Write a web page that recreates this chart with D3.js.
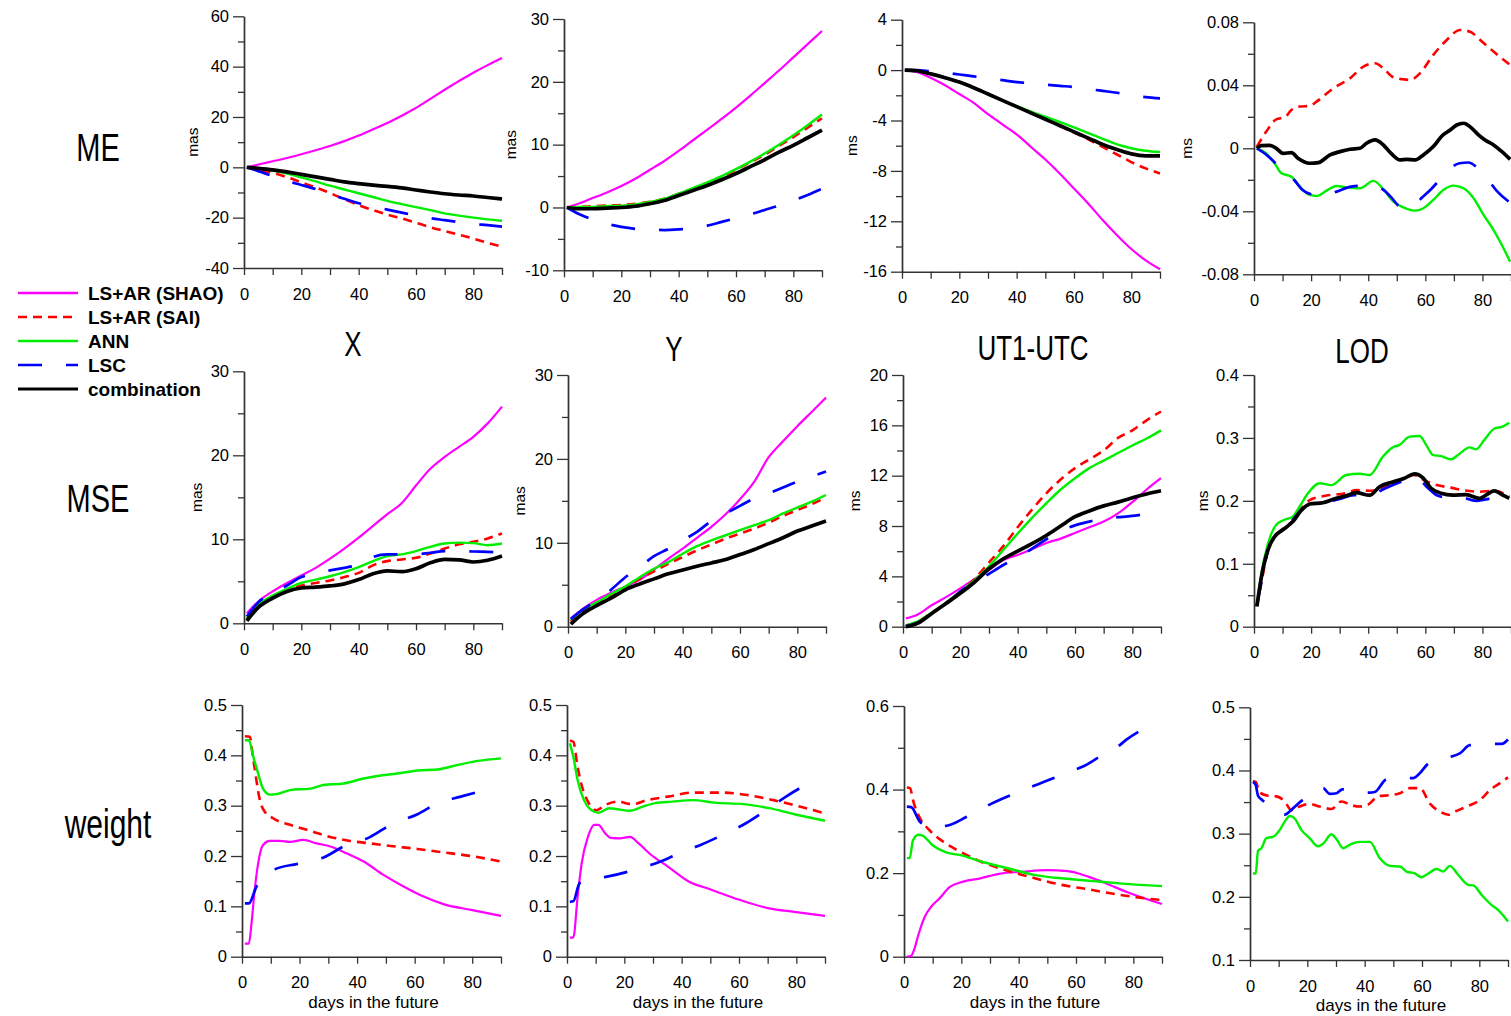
<!DOCTYPE html>
<html>
<head>
<meta charset="utf-8">
<script src="https://cdn.jsdelivr.net/npm/d3@7"></script>
<style>
  body { margin: 0; background: #fff; }
  svg { display: block; }
</style>
</head>
<body>
<svg id="chart" width="1511" height="1016"></svg>
<script>
// ---------- series names and common day grid ----------
const SERIES_NAMES = ["LS+AR (SHAO)", "LS+AR (SAI)", "ANN", "LSC", "combination"];
const DAYS = [1, 5, 10, 15, 20, 25, 30, 35, 40, 45, 50, 55, 60, 65, 70, 75, 80, 85, 90];
const X_TICKS = [0, 10, 20, 30, 40, 50, 60, 70, 80, 90];
const X_LABELS = [0, 20, 40, 60, 80];
const ROW_TITLES = ["ME", "MSE", "weight"];
const COL_TITLES = ["X", "Y", "UT1-UTC", "LOD"];

// ---------- y tick labels ----------
const TICKS_ME_X = [-40, -20, 0, 20, 40, 60];
const TICKS_ME_Y = [-10, 0, 10, 20, 30];
const TICKS_ME_UT = [-16, -12, -8, -4, 0, 4];
const TICKS_ME_LOD = [-0.08, -0.04, 0, 0.04, 0.08];
const TICKS_MSE_XY = [0, 10, 20, 30];
const TICKS_MSE_UT = [0, 4, 8, 12, 16, 20];
const TICKS_MSE_LOD = [0, 0.1, 0.2, 0.3, 0.4];
const TICKS_W = [0, 0.1, 0.2, 0.3, 0.4, 0.5];
const TICKS_W_UT = [0, 0.2, 0.4, 0.6];
const TICKS_W_LOD = [0.1, 0.2, 0.3, 0.4, 0.5];

// ---------- ME, X (mas) ----------
const meX_shao = [0, 1.1, 2.4, 3.7, 5.2, 6.8, 8.5, 10.4, 12.6, 15.1, 17.6, 20.5, 23.6, 27.2, 30.8, 34.3, 37.6, 40.6, 43.4];
const meX_sai  = [0, -1, -2.2, -3.9, -6, -8, -10.2, -12.7, -15, -17, -18.8, -20.3, -22, -23.8, -25.3, -26.8, -28.3, -30, -31.5];
const meX_ann  = [0, -0.5, -1.3, -2.5, -4, -5.6, -7.3, -8.8, -10.3, -11.8, -13.3, -14.6, -15.8, -17, -18.3, -19.2, -20, -20.7, -21.2];
const meX_lsc  = [0, -1.5, -3.5, -5.5, -7, -8.6, -10.5, -12.5, -14.3, -15.5, -16.8, -18, -19.2, -20.2, -21, -21.8, -22.5, -23, -23.6];
const meX_comb = [0, -0.4, -1, -1.8, -2.8, -3.8, -4.8, -5.8, -6.5, -7.1, -7.6, -8.2, -9.0, -9.8, -10.5, -11, -11.4, -12, -12.6];

// ---------- ME, Y (mas) ----------
const meY_shao = [0, 0.6, 1.5, 2.4, 3.4, 4.6, 6, 7.4, 9, 10.7, 12.4, 14.1, 15.9, 17.8, 19.8, 21.8, 23.9, 26, 28.1];
const meY_sai  = [0, 0.1, 0.2, 0.3, 0.4, 0.6, 0.9, 1.4, 2.2, 3.0, 3.9, 4.9, 6.0, 7.2, 8.4, 9.8, 11.2, 12.7, 14.2];
const meY_ann  = [0, 0.1, 0.1, 0.2, 0.3, 0.5, 0.9, 1.4, 2.2, 3.1, 4.0, 5.0, 6.1, 7.3, 8.6, 10.0, 11.5, 13.1, 14.8];
const meY_lsc  = [0, -1, -1.9, -2.6, -3.1, -3.4, -3.5, -3.6, -3.5, -3.3, -2.9, -2.3, -1.7, -1.1, -0.4, 0.3, 1.1, 2.0, 3.0];
const meY_comb = [0, -0.2, -0.2, -0.1, 0, 0.2, 0.6, 1.1, 1.9, 2.7, 3.5, 4.4, 5.4, 6.5, 7.6, 8.8, 9.9, 11.1, 12.3];

// ---------- ME, UT1-UTC (ms) ----------
const meU_shao = [0, -0.15, -0.6, -1.2, -1.9, -2.6, -3.5, -4.3, -5.1, -6.1, -7.1, -8.2, -9.4, -10.6, -11.9, -13.1, -14.2, -15.1, -15.8];
const meU_sai  = [0, -0.05, -0.3, -0.6, -0.95, -1.4, -1.9, -2.4, -2.9, -3.4, -3.9, -4.45, -4.95, -5.5, -6.1, -6.7, -7.3, -7.8, -8.2];
const meU_ann  = [0, -0.05, -0.3, -0.6, -0.95, -1.4, -1.9, -2.4, -2.85, -3.3, -3.7, -4.1, -4.55, -5.0, -5.45, -5.9, -6.2, -6.4, -6.5];
const meU_lsc  = [0, 0, -0.1, -0.2, -0.35, -0.5, -0.65, -0.8, -0.95, -1.05, -1.15, -1.25, -1.35, -1.5, -1.65, -1.8, -2.0, -2.15, -2.25];
const meU_comb = [0, -0.05, -0.3, -0.6, -0.95, -1.4, -1.9, -2.4, -2.9, -3.4, -3.9, -4.4, -4.9, -5.4, -5.9, -6.3, -6.65, -6.8, -6.8];

// ---------- ME, LOD (ms) as [day, value] ----------
const meL_sai = [[1,0.001],[4.3,0.0106],[7.8,0.0184],[10.8,0.0197],[13.1,0.0243],[16,0.0265],[19.5,0.0269],[21.9,0.0296],[27.7,0.038],[33.6,0.0444],[38.3,0.0519],[42.4,0.054],[45.3,0.0508],[48.8,0.0451],[52.3,0.0438],[54.6,0.0434],[58.1,0.0476],[62.8,0.0593],[67.5,0.0688],[72.2,0.0751],[75.7,0.074],[79.2,0.0688],[83.9,0.0614],[89.7,0.0529]];
const meL_ann = [[1,0],[4.3,-0.0032],[7.2,-0.0095],[9.6,-0.0159],[13.1,-0.018],[16,-0.0243],[19.5,-0.0296],[21.9,-0.0303],[25.4,-0.0269],[28.9,-0.0239],[32.4,-0.0248],[37.1,-0.0254],[41.8,-0.0207],[45.3,-0.026],[48.8,-0.0339],[52.3,-0.0375],[56.4,-0.0396],[59.3,-0.0381],[62.8,-0.0328],[66.3,-0.0265],[69.9,-0.0237],[73.4,-0.0254],[76.9,-0.0317],[80.4,-0.0423],[83.9,-0.0519],[86.8,-0.0614],[89.7,-0.072]];
const meL_lsc = [[1,0],[4,-0.0036],[7,-0.0085],[10,-0.014],[14,-0.02],[17,-0.0265],[20,-0.0292],[24,-0.03],[29,-0.0275],[34,-0.0243],[37,-0.0239],[41,-0.024],[45,-0.026],[48,-0.031],[51,-0.0366],[55,-0.037],[59,-0.031],[62,-0.026],[65,-0.02],[68,-0.014],[72,-0.0095],[75,-0.009],[79,-0.0138],[82,-0.02],[85,-0.027],[89.7,-0.0345]];
const meL_comb = [[1,0],[2.6,0.0017],[5.5,0.0019],[7.8,0],[10.2,-0.0032],[13.1,-0.0028],[15.4,-0.0063],[19.5,-0.0095],[22.5,-0.0091],[26.6,-0.0042],[30.1,-0.0021],[33.6,-0.0006],[37.1,0],[39.4,0.0032],[42.4,0.0053],[45.3,0.0021],[48.2,-0.0036],[51.1,-0.0074],[53.5,-0.007],[56.4,-0.0074],[59.3,-0.0042],[62.8,0.0011],[65.8,0.0078],[68.7,0.0116],[71,0.0148],[73.4,0.0159],[76.3,0.0127],[78.6,0.0085],[80.9,0.0053],[83.9,0.0021],[86.8,-0.0021],[89.7,-0.007]];

// ---------- MSE, X (mas) ----------
const mseX_shao = [1.2, 2.6, 3.8, 4.8, 5.7, 6.6, 7.7, 8.9, 10.2, 11.6, 13.0, 14.3, 16.4, 18.4, 19.8, 21.0, 22.2, 23.8, 25.8];
const mseX_sai  = [0.5, 2.1, 3.2, 3.9, 4.5, 4.8, 5.1, 5.5, 6.0, 6.9, 7.4, 7.6, 7.8, 8.3, 8.9, 9.4, 9.7, 10.1, 10.7];
const mseX_ann  = [0.6, 2.2, 3.3, 4.1, 4.8, 5.2, 5.6, 6.1, 6.7, 7.4, 8.0, 8.2, 8.6, 9.1, 9.5, 9.6, 9.55, 9.3, 9.5];
const mseX_lsc  = [0.8, 2.5, 3.6, 4.5, 5.5, 5.9, 6.3, 6.6, 7.0, 7.9, 8.2, 8.2, 8.2, 8.4, 8.6, 8.6, 8.55, 8.5, 8.45];
const mseX_comb = [0.3, 1.9, 3.0, 3.8, 4.2, 4.3, 4.45, 4.7, 5.2, 5.9, 6.25, 6.15, 6.5, 7.2, 7.6, 7.55, 7.3, 7.5, 8.0];

// ---------- MSE, Y (mas) ----------
const mseY_shao = [1.0, 2.1, 3.2, 4.05, 4.8, 5.6, 6.8, 8.1, 9.3, 10.6, 11.9, 13.4, 15.2, 17.3, 20.2, 22.1, 23.9, 25.6, 27.3];
const mseY_sai  = [0.6, 1.9, 2.8, 3.8, 4.7, 5.7, 6.6, 7.5, 8.3, 9.1, 9.8, 10.5, 11.1, 11.7, 12.4, 13.2, 13.9, 14.6, 15.4];
const mseY_ann  = [0.8, 2.0, 2.9, 3.9, 4.8, 5.9, 6.9, 7.7, 8.7, 9.6, 10.3, 10.9, 11.5, 12.1, 12.7, 13.5, 14.2, 14.9, 15.7];
const mseY_lsc  = [0.9, 2.0, 3.1, 4.4, 5.9, 7.1, 8.4, 9.3, 10.3, 11.3, 12.6, 13.5, 14.4, 15.3, 15.9, 16.6, 17.3, 17.9, 18.5];
const mseY_comb = [0.3, 1.5, 2.5, 3.4, 4.4, 5.1, 5.7, 6.3, 6.75, 7.2, 7.6, 8.0, 8.6, 9.2, 9.9, 10.6, 11.4, 12.0, 12.6];

// ---------- MSE, UT1-UTC (ms) ----------
const mseU_shao = [0.66, 0.95, 1.7, 2.35, 3.05, 3.8, 4.5, 5.3, 5.7, 6.15, 6.65, 7.0, 7.45, 7.9, 8.35, 9.0, 9.9, 10.9, 11.8];
const mseU_sai  = [0.1, 0.4, 1.1, 1.9, 2.8, 3.8, 5.1, 6.4, 7.9, 9.3, 10.6, 11.7, 12.6, 13.3, 14.0, 15.0, 15.6, 16.4, 17.1];
const mseU_ann  = [0.1, 0.4, 1.1, 1.9, 2.8, 3.7, 4.8, 6.1, 7.4, 8.65, 9.8, 10.9, 11.8, 12.6, 13.2, 13.8, 14.4, 14.95, 15.6];
const mseU_lsc  = [0.05, 0.3, 1.0, 1.8, 2.8, 3.5, 4.2, 4.9, 5.5, 6.2, 6.95, 7.6, 8.05, 8.35, 8.6, 8.7, 8.8, 8.95, 9.0];
const mseU_comb = [0, 0.26, 1.05, 1.85, 2.65, 3.55, 4.6, 5.4, 6.0, 6.6, 7.25, 8.0, 8.74, 9.2, 9.6, 9.9, 10.25, 10.55, 10.8];

// ---------- MSE, LOD (ms) as [day, value] ----------
const mseL_sai = [[1,0.034],[3,0.08],[5,0.125],[7,0.142],[10,0.155],[14,0.17],[17,0.19],[19.5,0.201],[25,0.208],[32,0.212],[36,0.217],[40.5,0.216],[46,0.2225],[52,0.234],[56,0.241],[60,0.232],[64,0.225],[69,0.221],[73,0.217],[79,0.2145],[84,0.216],[89.4,0.207]];
const mseL_ann = [[1,0.034],[2.6,0.085],[4.9,0.132],[7.8,0.162],[10.7,0.17],[13.6,0.175],[16,0.191],[18.9,0.212],[23,0.228],[27.1,0.225],[32.3,0.241],[37,0.243],[40.5,0.241],[45.1,0.27],[48.6,0.285],[51,0.289],[54.5,0.302],[58,0.303],[60.3,0.289],[62.6,0.273],[65.5,0.271],[69,0.266],[72,0.275],[75.5,0.285],[77.8,0.282],[80.7,0.297],[84.2,0.315],[87.1,0.318],[89.4,0.324]];
const mseL_lsc = [[1,0.033],[3,0.08],[5,0.124],[7,0.142],[10,0.153],[13.6,0.17],[17,0.188],[20,0.195],[25,0.197],[30,0.203],[35,0.209],[40,0.208],[46,0.22],[52.7,0.232],[57,0.236],[61,0.22],[64,0.209],[67,0.206],[72,0.206],[77.8,0.2],[80.7,0.202],[85,0.205],[89.4,0.204]];
const mseL_comb = [[1,0.032],[2.6,0.079],[4.9,0.122],[7.2,0.143],[10.1,0.154],[13.6,0.167],[16.6,0.185],[19.5,0.195],[24.1,0.197],[28.8,0.204],[32.3,0.208],[35.8,0.213],[40.5,0.209],[44,0.2225],[48.6,0.23],[52.7,0.236],[56.2,0.243],[59.1,0.237],[62,0.22],[65.5,0.212],[69.6,0.209],[74.3,0.21],[78.9,0.204],[84.2,0.216],[87.1,0.209],[89.4,0.204]];

// ---------- weight, X ----------
const wX_shao = [[1,0.026],[2.4,0.026],[3.3,0.066],[4.4,0.132],[5.6,0.185],[7.3,0.222],[9.7,0.23],[13.2,0.23],[16.7,0.228],[21.3,0.232],[26,0.225],[30.7,0.219],[36.5,0.205],[42.3,0.189],[49.3,0.162],[56.3,0.139],[63.3,0.119],[70.3,0.104],[79.6,0.093],[90,0.081]];
const wX_sai  = [[1,0.438],[2.7,0.437],[3.8,0.397],[5,0.351],[6.2,0.311],[7.9,0.288],[10.8,0.275],[16.7,0.262],[22.5,0.252],[30.7,0.238],[37.6,0.23],[44.6,0.225],[51.6,0.22],[61,0.214],[70.3,0.207],[79.6,0.2],[90,0.189]];
const wX_ann  = [[1,0.43],[2.4,0.43],[3.8,0.40],[5.6,0.364],[7.3,0.334],[9.7,0.322],[12,0.323],[16.7,0.331],[23.7,0.334],[28.3,0.341],[35.3,0.344],[42.3,0.354],[47,0.359],[54,0.364],[61,0.37],[68,0.372],[75,0.381],[82,0.389],[90,0.394]];
const wX_lsc  = [[1,0.106],[2.4,0.106],[5,0.139],[8,0.16],[11.4,0.1735],[19,0.184],[24,0.19],[28.3,0.197],[35.3,0.219],[44.6,0.238],[51.6,0.262],[61,0.283],[68,0.305],[76,0.318],[84.3,0.331]];

// ---------- weight, Y ----------
const wY_shao = [[1,0.038],[2.2,0.038],[3.7,0.119],[5.1,0.185],[7.3,0.238],[9.5,0.262],[11,0.262],[13.2,0.246],[15.4,0.236],[18.4,0.235],[22,0.238],[25,0.225],[29.4,0.202],[35.2,0.179],[42.6,0.149],[49.9,0.134],[60.2,0.113],[70.5,0.096],[79.3,0.089],[90,0.081]];
const wY_sai  = [[1,0.429],[2.2,0.427],[3.7,0.377],[5.1,0.341],[7.3,0.308],[10.3,0.291],[13.2,0.301],[17.6,0.308],[22.8,0.303],[27.9,0.311],[35.2,0.318],[44,0.326],[54.3,0.326],[63.1,0.321],[72,0.311],[80.8,0.299],[89.6,0.285]];
const wY_ann  = [[1,0.424],[2.2,0.397],[3.7,0.351],[5.9,0.311],[8.1,0.293],[11,0.286],[14.7,0.295],[17.6,0.293],[22,0.29],[26.4,0.298],[30.8,0.305],[36.7,0.308],[44,0.311],[51.4,0.306],[61.7,0.303],[70.5,0.295],[79.3,0.283],[90,0.27]];
const wY_lsc  = [[1,0.109],[2.2,0.11],[4.4,0.146],[8,0.153],[14,0.159],[21.3,0.169],[26,0.177],[30.8,0.185],[37.9,0.202],[42,0.212],[47,0.223],[54.3,0.242],[58,0.252],[62.4,0.265],[70.5,0.295],[76.4,0.318],[84,0.344]];

// ---------- weight, UT1-UTC ----------
const wU_shao = [[1,0],[2.5,0.002],[3.5,0.016],[5,0.052],[7.2,0.095],[9.4,0.119],[12.3,0.139],[16,0.167],[20.4,0.179],[26.3,0.187],[33.6,0.199],[41,0.203],[49.8,0.207],[57.1,0.205],[64.5,0.191],[70.3,0.176],[77.7,0.155],[90,0.126]];
const wU_sai  = [[1,0.405],[2,0.404],[3.5,0.366],[5.7,0.33],[8.7,0.304],[13.1,0.278],[18.9,0.254],[26.3,0.229],[33.6,0.211],[43.9,0.191],[54.2,0.173],[64.5,0.161],[76.2,0.147],[88,0.137],[90,0.136]];
const wU_ann  = [[1,0.236],[2,0.236],[3.1,0.278],[5,0.292],[6.5,0.29],[10.1,0.266],[14.5,0.25],[20.4,0.242],[27.8,0.226],[36.6,0.211],[45.4,0.196],[55.7,0.187],[65.9,0.181],[76.2,0.175],[90,0.169]];
const wU_lsc  = [[1,0.359],[2.5,0.358],[5.7,0.322],[10,0.31],[15.3,0.314],[21.9,0.335],[26,0.35],[30.7,0.367],[38,0.389],[42,0.4],[46.8,0.413],[54.2,0.433],[58,0.443],[63,0.457],[70,0.486],[74,0.5],[77.7,0.52],[84.7,0.55]];

// ---------- weight, LOD ----------
const wL_sai = [[1,0.383],[2,0.382],[3.4,0.365],[6.3,0.36],[9.2,0.359],[12.1,0.351],[14.4,0.337],[17.3,0.343],[20.8,0.347],[24.3,0.343],[28.4,0.339],[31.9,0.351],[35.4,0.345],[38.3,0.343],[41.2,0.346],[44.7,0.359],[48.8,0.361],[52.3,0.364],[55.8,0.372],[59.3,0.372],[62.7,0.348],[66.2,0.335],[69.2,0.33],[72.1,0.336],[76.7,0.345],[80.2,0.353],[83.7,0.369],[87.2,0.38],[90,0.389]];
const wL_ann = [[1,0.237],[2,0.237],[2.8,0.273],[4,0.277],[5.7,0.293],[8,0.295],[10.4,0.306],[12.1,0.319],[13.9,0.328],[15.6,0.324],[17.9,0.306],[20.8,0.293],[23.7,0.28],[25.5,0.284],[28.4,0.299],[30.2,0.291],[32.5,0.277],[35.4,0.284],[38.3,0.287],[41.8,0.287],[45.3,0.261],[48.8,0.249],[52.3,0.248],[54.6,0.24],[57.5,0.237],[59.8,0.231],[62.2,0.237],[65.1,0.244],[67.4,0.24],[69.7,0.249],[72.6,0.235],[76.1,0.219],[77.9,0.218],[80.8,0.203],[84.3,0.187],[86.6,0.179],[90,0.161]];
const wL_lsc = [[1,0.382],[2,0.377],[2.8,0.36],[4.3,0.353],[8,0.34],[12.1,0.33],[15,0.34],[18.3,0.353],[22,0.362],[25.5,0.372],[27.8,0.363],[30.2,0.364],[32.2,0.37],[37,0.368],[41.6,0.365],[43.5,0.366],[47.6,0.386],[52,0.388],[56.9,0.388],[59.3,0.396],[62.2,0.411],[66,0.417],[70.3,0.422],[73.2,0.427],[76.7,0.44],[81,0.441],[85.4,0.442],[87.8,0.442],[90,0.449]];

// ---------- styles ----------
const COLORS = ["#ff00ff", "#ff0000", "#00ee00", "#0000ff", "#000000"];
const DASHES = [null, "9,6", null, "24,24", null];
const WIDTHS = [2.2, 2.6, 2.4, 2.7, 3.7];
const FONT = '"Liberation Sans", Arial, Helvetica, sans-serif';

const svg = d3.select("#chart");

// panel frames: pixel extent of each axis pair, plus the series drawn in it
const panels = [
  { xr: [244, 502], yr: [268, 16.3], dom: [-40, 60], ticks: TICKS_ME_X, minor: 10, unit: "mas", uOff: 51,
    data: [meX_shao, meX_sai, meX_ann, meX_lsc, meX_comb] },
  { xr: [564, 822], yr: [270.3, 19], dom: [-10, 30], ticks: TICKS_ME_Y, minor: 5, unit: "mas", uOff: 53,
    data: [meY_shao, meY_sai, meY_ann, meY_lsc, meY_comb] },
  { xr: [902, 1160], yr: [271.7, 19.7], dom: [-16, 4], ticks: TICKS_ME_UT, minor: 2, unit: "ms", uOff: 50,
    data: [meU_shao, meU_sai, meU_ann, meU_lsc, meU_comb] },
  { xr: [1254, 1511], yr: [274.3, 22.3], dom: [-0.08, 0.08], ticks: TICKS_ME_LOD, minor: 0.02, unit: "ms", uOff: 67,
    data: [null, meL_sai, meL_ann, meL_lsc, meL_comb] },

  { xr: [244, 502], yr: [623.3, 371.3], dom: [0, 30], ticks: TICKS_MSE_XY, minor: 5, unit: "mas", uOff: 47,
    data: [mseX_shao, mseX_sai, mseX_ann, mseX_lsc, mseX_comb] },
  { xr: [568, 826], yr: [626.7, 375], dom: [0, 30], ticks: TICKS_MSE_XY, minor: 5, unit: "mas", uOff: 48,
    data: [mseY_shao, mseY_sai, mseY_ann, mseY_lsc, mseY_comb] },
  { xr: [903, 1161], yr: [626.7, 375], dom: [0, 20], ticks: TICKS_MSE_UT, minor: 2, unit: "ms", uOff: 48,
    data: [mseU_shao, mseU_sai, mseU_ann, mseU_lsc, mseU_comb] },
  { xr: [1254, 1511], yr: [626.7, 375], dom: [0, 0.4], ticks: TICKS_MSE_LOD, minor: 0.05, unit: "ms", uOff: 51,
    data: [null, mseL_sai, mseL_ann, mseL_lsc, mseL_comb] },

  { xr: [242, 501], yr: [956.7, 705], dom: [0, 0.5], ticks: TICKS_W, minor: 0.05, xTitle: true,
    data: [wX_shao, wX_sai, wX_ann, wX_lsc, null] },
  { xr: [567, 825], yr: [956.7, 705], dom: [0, 0.5], ticks: TICKS_W, minor: 0.05, xTitle: true,
    data: [wY_shao, wY_sai, wY_ann, wY_lsc, null] },
  { xr: [904, 1162], yr: [956.7, 706], dom: [0, 0.6], ticks: TICKS_W_UT, minor: 0.1, xTitle: true,
    data: [wU_shao, wU_sai, wU_ann, wU_lsc, null] },
  { xr: [1250, 1508], yr: [960, 707.3], dom: [0.1, 0.5], ticks: TICKS_W_LOD, minor: 0.05, xTitle: true,
    data: [null, wL_sai, wL_ann, wL_lsc, null] }
];

// turn a plain value list (on the DAYS grid) or a [day, value] list into points
function toPoints(arr) {
  return arr.map((v, i) => Array.isArray(v) ? v : [DAYS[i], v]);
}

function styleAxis(g) {
  g.select(".domain").attr("stroke", "#333").attr("stroke-width", 1.4);
  g.selectAll(".tick line").attr("stroke", "#333").attr("stroke-width", 1.3);
  g.selectAll(".tick text").attr("fill", "#000").style("font-family", FONT).style("font-size", "16.5px");
}

panels.forEach(p => {
  const x = d3.scaleLinear().domain([0, 90]).range(p.xr);
  const y = d3.scaleLinear().domain(p.dom).range(p.yr);
  const g = svg.append("g");

  // x axis
  const gx = g.append("g")
    .attr("transform", `translate(0,${p.yr[0]})`)
    .call(d3.axisBottom(x).tickValues(X_TICKS).tickSize(7).tickSizeOuter(0).tickPadding(13)
      .tickFormat(d => X_LABELS.includes(d) ? String(d) : ""));
  styleAxis(gx);

  // y axis: minor ticks first, then labelled major ticks
  const minors = d3.range(p.dom[0], p.dom[1] + p.minor / 2, p.minor)
    .map(v => Math.round(v * 1e6) / 1e6)
    .filter(v => !p.ticks.some(t => Math.abs(t - v) < 1e-9));
  const gm = g.append("g")
    .attr("transform", `translate(${p.xr[0]},0)`)
    .call(d3.axisLeft(y).tickValues(minors).tickSize(6).tickSizeOuter(0).tickFormat(""));
  styleAxis(gm);
  const gy = g.append("g")
    .attr("transform", `translate(${p.xr[0]},0)`)
    .call(d3.axisLeft(y).tickValues(p.ticks).tickSize(11).tickSizeOuter(0).tickPadding(4)
      .tickFormat(d => String(d)));
  styleAxis(gy);

  // unit label
  if (p.unit) {
    const ym = (p.yr[0] + p.yr[1]) / 2;
    g.append("text")
      .attr("transform", `translate(${p.xr[0] - p.uOff},${ym}) rotate(-90)`)
      .attr("text-anchor", "middle")
      .attr("dy", "0.35em")
      .style("font-family", FONT).style("font-size", "15.5px")
      .text(p.unit);
  }

  // x title under the weight row
  if (p.xTitle) {
    g.append("text")
      .attr("x", (p.xr[0] + p.xr[1]) / 2 + 2)
      .attr("y", p.yr[0] + 51)
      .attr("text-anchor", "middle")
      .style("font-family", FONT).style("font-size", "17px")
      .text("days in the future");
  }

  // series lines
  const line = d3.line().x(d => x(d[0])).y(d => y(d[1])).curve(d3.curveMonotoneX);
  p.data.forEach((arr, i) => {
    if (!arr) return;
    g.append("path")
      .datum(toPoints(arr))
      .attr("d", line)
      .attr("fill", "none")
      .attr("stroke", COLORS[i])
      .attr("stroke-width", WIDTHS[i])
      .attr("stroke-dasharray", DASHES[i])
      .attr("stroke-linejoin", "round");
  });
});

// row titles
const rowPos = [[98, 161, 29], [98, 512, 29], [108, 838, 30]];
ROW_TITLES.forEach((t, i) => {
  svg.append("text")
    .attr("transform", `translate(${rowPos[i][0]},${rowPos[i][1]}) scale(1,1.35)`)
    .attr("text-anchor", "middle")
    .style("font-family", FONT).style("font-size", rowPos[i][2] + "px")
    .text(t);
});

// column titles
const colPos = [[353, 356], [674, 361], [1033, 360], [1362, 363]];
COL_TITLES.forEach((t, i) => {
  svg.append("text")
    .attr("transform", `translate(${colPos[i][0]},${colPos[i][1]}) scale(1,1.35)`)
    .attr("text-anchor", "middle")
    .style("font-family", FONT).style("font-size", "26px")
    .text(t);
});

// legend
const legend = svg.append("g").attr("transform", "translate(18,293)");
SERIES_NAMES.forEach((name, i) => {
  const row = legend.append("g").attr("transform", `translate(0,${i * 24})`);
  row.append("line")
    .attr("x1", 0).attr("x2", 60).attr("y1", 0).attr("y2", 0)
    .attr("stroke", COLORS[i])
    .attr("stroke-width", i === 4 ? 3.2 : 2.4)
    .attr("stroke-dasharray", DASHES[i]);
  row.append("text")
    .attr("x", 70).attr("y", 0).attr("dy", "0.36em")
    .style("font-family", FONT).style("font-size", "19px").style("font-weight", "bold")
    .text(name);
});
</script>
</body>
</html>
